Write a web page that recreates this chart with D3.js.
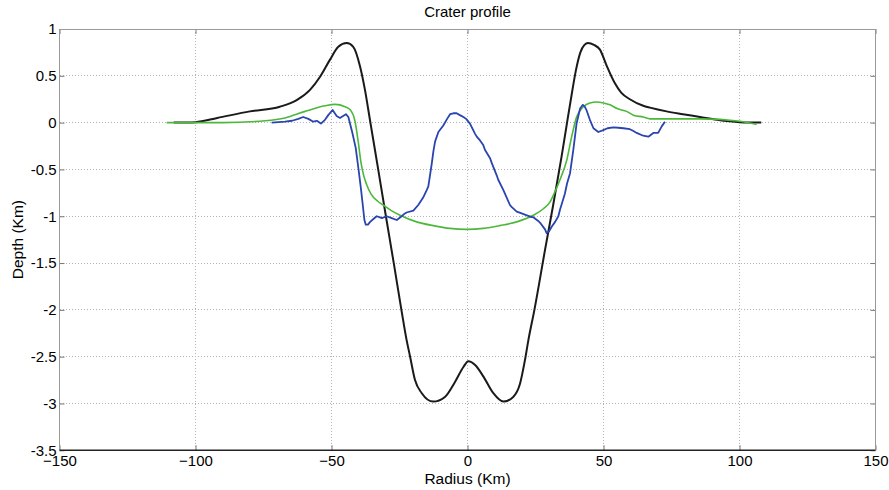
<!DOCTYPE html>
<html><head><meta charset="utf-8">
<script src="https://cdn.jsdelivr.net/npm/d3@7"></script>
<style>
body{margin:0;background:#fff;}
text{font-family:"Liberation Sans",Arial,Helvetica,sans-serif;fill:#000;}
</style></head>
<body><svg id="chart" width="889" height="490"></svg>
<script>
const title = "Crater profile";
const xLabel = "Radius (Km)";
const yLabel = "Depth (Km)";
const xTicks = [-150,-100,-50,0,50,100,150];
const yTicks = [1,0.5,0,-0.5,-1,-1.5,-2,-2.5,-3,-3.5];

// black: model profile
const blackX = [-108,-100,-92,-80,-69,-62.8,-57.9,-54.2,-50.6,-47.5,-44.4,-42,-39.5,-37.7,-35.7,-33,-30,-27,-24.3,-22.4,-21.1,-19.3,-16.8,-12.6,-8.3,-4.6,-1.5,0.3,2.8,5.8,9.5,13.2,16.8,19.3,21.1,22.4,24.6,28.5,31.5,34.6,36.6,38.3,39.8,41.5,43,44.3,46.5,48.7,51,54.2,56.5,59.7,64.6,67.1,73.2,79.2,85.5,91.7,100,108];
const blackY = [0,0.005,0.05,0.12,0.17,0.24,0.35,0.49,0.67,0.81,0.85,0.81,0.6,0.35,0,-0.47,-1.0,-1.52,-2.0,-2.32,-2.5,-2.75,-2.89,-2.98,-2.93,-2.77,-2.61,-2.55,-2.59,-2.71,-2.89,-2.98,-2.93,-2.79,-2.54,-2.32,-2.0,-1.36,-0.88,-0.36,0,0.3,0.55,0.75,0.83,0.85,0.83,0.78,0.62,0.42,0.32,0.25,0.18,0.16,0.12,0.09,0.06,0.03,0.005,0];

// green: fitted profile
const greenX = [-110.6,-90,-74.4,-67.1,-59.7,-52.4,-48.7,-45,-43.2,-41.4,-40.1,-39.3,-38.3,-37.1,-35.5,-33,-31,-28,-24.8,-18.7,-12.6,-6.4,-0.3,5.8,11.9,18.1,24.2,27.9,30.3,31.5,34,36.5,38.3,40.1,42.6,45,47.5,50,52.4,55,58.5,61,64.6,67.1,73.2,85.5,100.2,106.3];
const greenY = [0,0,0.02,0.05,0.12,0.18,0.195,0.17,0.14,0.02,-0.22,-0.4,-0.55,-0.66,-0.76,-0.84,-0.88,-0.94,-0.99,-1.06,-1.1,-1.13,-1.14,-1.13,-1.1,-1.06,-0.99,-0.92,-0.85,-0.78,-0.61,-0.4,-0.15,0.06,0.17,0.21,0.22,0.21,0.19,0.15,0.12,0.08,0.06,0.04,0.04,0.04,0.014,-0.02];

// blue: measured profile
const blueX = [-72,-69.5,-67.1,-64.5,-62.2,-60.4,-58.5,-56.7,-55.4,-53.9,-52.4,-51.2,-49.6,-48.1,-46.9,-44.7,-43.8,-42.4,-41.1,-40.1,-39.2,-38.5,-37.9,-37.4,-36.6,-35.8,-34.6,-33.4,-32.4,-31.5,-29.7,-27.9,-26,-24.2,-23,-22.4,-19.9,-18.1,-16.3,-15,-14.4,-13.2,-12.5,-11.9,-10.7,-8.9,-7.5,-6.4,-5.2,-4,-2.8,-1.5,-0.5,0.9,2.8,3.4,4.6,5.8,6.4,8.3,8.9,10.7,11.3,13.2,13.8,15.6,16.2,18.1,19.9,21.8,23.6,24.2,26,26.7,28.5,29.1,30,31,32.2,33.4,34,35.8,36.6,37.7,38.9,40.1,41.4,42.4,43.1,43.8,45,46.3,48.1,49.9,51.5,53.6,55.5,57.3,59.7,61,62.2,64.6,66.5,68.3,70.1,71.4,72.6];
const blueY = [0,0.005,0.01,0.02,0.04,0.06,0.04,0.01,0.02,-0.01,0.03,0.08,0.135,0.07,0.05,0.09,0.06,-0.1,-0.27,-0.49,-0.7,-0.88,-1.04,-1.09,-1.09,-1.06,-1.03,-1.0,-1.01,-1.02,-1.0,-1.02,-1.04,-1.0,-0.97,-0.96,-0.94,-0.88,-0.8,-0.72,-0.68,-0.45,-0.3,-0.2,-0.1,-0.03,0.04,0.09,0.1,0.1,0.08,0.06,0.04,-0.01,-0.12,-0.15,-0.19,-0.24,-0.29,-0.38,-0.43,-0.56,-0.61,-0.72,-0.76,-0.88,-0.9,-0.95,-0.97,-0.99,-1.01,-1.01,-1.05,-1.07,-1.14,-1.18,-1.16,-1.11,-1.06,-1.0,-0.93,-0.76,-0.65,-0.54,-0.29,-0.01,0.15,0.19,0.17,0.13,0.03,-0.06,-0.1,-0.08,-0.06,-0.05,-0.055,-0.06,-0.07,-0.09,-0.11,-0.14,-0.15,-0.11,-0.11,-0.04,0.01];

const svg = d3.select("#chart");
const L = 59.5, R = 875.5, T = 29, B = 450.3;
const x = d3.scaleLinear().domain([-150,150]).range([L,R]);
const y = d3.scaleLinear().domain([-3.5,1]).range([B,T]);

// grid
const g = svg.append("g");
g.selectAll(".gx").data(xTicks.slice(1,-1)).enter().append("line")
  .attr("x1",d=>x(d)).attr("x2",d=>x(d)).attr("y1",T).attr("y2",B)
  .attr("stroke","#b4b4b4").attr("stroke-width",1).attr("stroke-dasharray","1,2").attr("shape-rendering","crispEdges");
g.selectAll(".gy").data(yTicks.slice(1,-1)).enter().append("line")
  .attr("y1",d=>y(d)).attr("y2",d=>y(d)).attr("x1",L).attr("x2",R)
  .attr("stroke","#b4b4b4").attr("stroke-width",1).attr("stroke-dasharray","1,2").attr("shape-rendering","crispEdges");

// axes
const xAxisB = d3.axisBottom(x).tickValues(xTicks).tickSize(-5).tickFormat(d3.format("d"));
const xAxisT = d3.axisTop(x).tickValues(xTicks).tickSize(-5).tickFormat("");
const yAxisL = d3.axisLeft(y).tickValues(yTicks).tickSize(-5).tickFormat(d=>String(d));
const yAxisR = d3.axisRight(y).tickValues(yTicks).tickSize(-5).tickFormat("");

function style(sel){
  sel.select(".domain").remove();
  sel.selectAll(".tick line").attr("stroke","#777");
  sel.selectAll("text").attr("font-size","15px").attr("fill","#000");
}
const ab = svg.append("g").attr("transform",`translate(0,${B})`).call(xAxisB); style(ab);
const at = svg.append("g").attr("transform",`translate(0,${T})`).call(xAxisT); style(at);
const al = svg.append("g").attr("transform",`translate(${L},0)`).call(yAxisL); style(al);
const ar = svg.append("g").attr("transform",`translate(${R},0)`).call(yAxisR); style(ar);
ab.selectAll("text").attr("dy","0.71em").attr("y",5);
al.selectAll("text").attr("x",-3);

// box
svg.append("line").attr("x1",L).attr("x2",R).attr("y1",T).attr("y2",T).attr("stroke","#999").attr("shape-rendering","crispEdges");
svg.append("line").attr("x1",L).attr("x2",L).attr("y1",T).attr("y2",B).attr("stroke","#999").attr("shape-rendering","crispEdges");
svg.append("line").attr("x1",R).attr("x2",R).attr("y1",T).attr("y2",B).attr("stroke","#999").attr("shape-rendering","crispEdges");
svg.append("line").attr("x1",L).attr("x2",R).attr("y1",B).attr("y2",B).attr("stroke","#222").attr("stroke-width",1.5);

function draw(xs, ys, color, w, curve){
  const data = xs.map((v,i)=>[v,ys[i]]);
  svg.append("path").datum(data)
    .attr("fill","none").attr("stroke",color).attr("stroke-width",w)
    .attr("stroke-linejoin","round")
    .attr("d", d3.line().x(d=>x(d[0])).y(d=>y(d[1])).curve(curve));
}
draw(blackX, blackY, "#1a1a1a", 2, d3.curveMonotoneX);
draw(greenX, greenY, "#4cb83a", 1.6, d3.curveMonotoneX);
draw(blueX, blueY, "#2a44b0", 1.8, d3.curveLinear);

svg.append("text").attr("x",(L+R)/2).attr("y",17).attr("text-anchor","middle").attr("font-size","15px").text(title);
svg.append("text").attr("x",(L+R)/2).attr("y",484).attr("text-anchor","middle").attr("font-size","15.5px").text(xLabel);
svg.append("text").attr("transform",`translate(23,${(T+B)/2}) rotate(-90)`).attr("text-anchor","middle").attr("font-size","15.5px").text(yLabel);
</script></body></html>
